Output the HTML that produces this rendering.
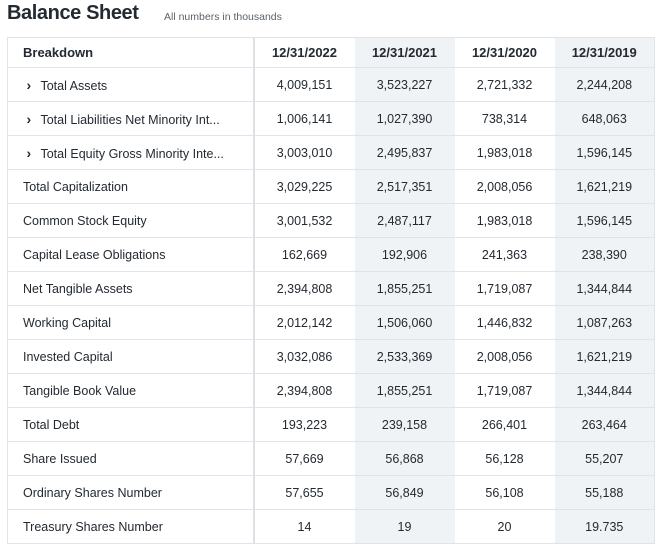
<!DOCTYPE html>
<html><head><meta charset="utf-8"><style>
body{margin:0;width:672px;height:554px;background:#fff;font-family:"Liberation Sans",sans-serif;color:#232a31;overflow:hidden;position:relative}
h1{position:absolute;left:7px;top:2px;margin:0;font-size:20px;font-weight:bold;letter-spacing:-0.4px}
.sub{position:absolute;left:164px;top:11px;font-size:10.5px;color:#5b636a}
table{position:absolute;left:7px;top:37px;border-collapse:collapse;table-layout:fixed;border:1px solid #e0e4e9}
td{height:33px;border-bottom:1px solid #e0e4e9;font-size:12.5px;text-align:center;padding:0;white-space:nowrap;overflow:hidden}
tr.h td{height:29px;font-weight:bold;font-size:13px}
td.n{text-align:left;padding-left:15px;border-right:2px solid #dde1e5}
td.s{background:#f0f3f5}
.c{display:inline-block;width:14px;font-weight:bold;font-size:14px}
</style></head><body>
<h1>Balance Sheet</h1><div class="sub">All numbers in thousands</div>
<table>
<colgroup><col style="width:246px"><col style="width:101px"><col style="width:100px"><col style="width:100px"><col style="width:100px"></colgroup>
<tr class="h"><td class="n">Breakdown</td><td>12/31/2022</td><td class="s">12/31/2021</td><td>12/31/2020</td><td class="s">12/31/2019</td></tr>
<tr><td class="n">&nbsp;<span class="c">›</span>Total Assets</td><td>4,009,151</td><td class="s">3,523,227</td><td>2,721,332</td><td class="s">2,244,208</td></tr>
<tr><td class="n">&nbsp;<span class="c">›</span>Total Liabilities Net Minority Int...</td><td>1,006,141</td><td class="s">1,027,390</td><td>738,314</td><td class="s">648,063</td></tr>
<tr><td class="n">&nbsp;<span class="c">›</span>Total Equity Gross Minority Inte...</td><td>3,003,010</td><td class="s">2,495,837</td><td>1,983,018</td><td class="s">1,596,145</td></tr>
<tr><td class="n">Total Capitalization</td><td>3,029,225</td><td class="s">2,517,351</td><td>2,008,056</td><td class="s">1,621,219</td></tr>
<tr><td class="n">Common Stock Equity</td><td>3,001,532</td><td class="s">2,487,117</td><td>1,983,018</td><td class="s">1,596,145</td></tr>
<tr><td class="n">Capital Lease Obligations</td><td>162,669</td><td class="s">192,906</td><td>241,363</td><td class="s">238,390</td></tr>
<tr><td class="n">Net Tangible Assets</td><td>2,394,808</td><td class="s">1,855,251</td><td>1,719,087</td><td class="s">1,344,844</td></tr>
<tr><td class="n">Working Capital</td><td>2,012,142</td><td class="s">1,506,060</td><td>1,446,832</td><td class="s">1,087,263</td></tr>
<tr><td class="n">Invested Capital</td><td>3,032,086</td><td class="s">2,533,369</td><td>2,008,056</td><td class="s">1,621,219</td></tr>
<tr><td class="n">Tangible Book Value</td><td>2,394,808</td><td class="s">1,855,251</td><td>1,719,087</td><td class="s">1,344,844</td></tr>
<tr><td class="n">Total Debt</td><td>193,223</td><td class="s">239,158</td><td>266,401</td><td class="s">263,464</td></tr>
<tr><td class="n">Share Issued</td><td>57,669</td><td class="s">56,868</td><td>56,128</td><td class="s">55,207</td></tr>
<tr><td class="n">Ordinary Shares Number</td><td>57,655</td><td class="s">56,849</td><td>56,108</td><td class="s">55,188</td></tr>
<tr><td class="n">Treasury Shares Number</td><td>14</td><td class="s">19</td><td>20</td><td class="s">19.735</td></tr>
</table>
</body></html>
